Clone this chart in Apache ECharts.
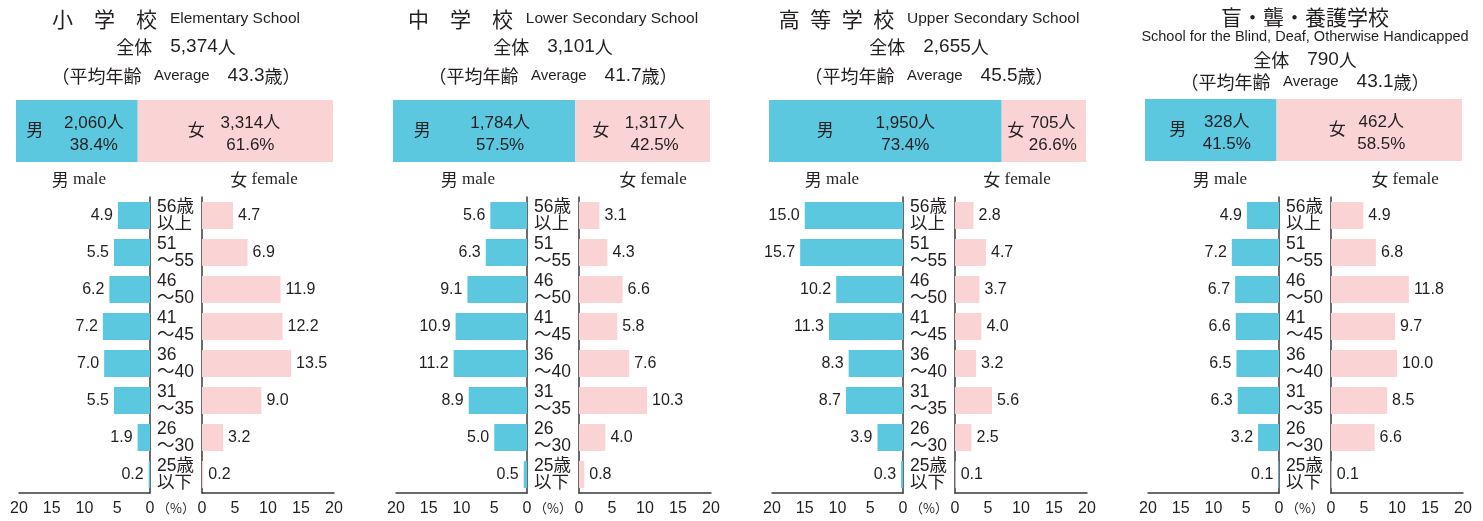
<!DOCTYPE html>
<html>
<head>
<meta charset="utf-8">
<script src="https://cdn.jsdelivr.net/npm/echarts@6/dist/echarts.min.js"></script>
<style>
  html, body { margin: 0; background: #fff; }
  #chart { width: 1483px; height: 521px; }
</style>
</head>
<body>
<div id="chart"></div>
<script>
// ---- data ----
const ageGroups = ['56歳\n以上', '51\n～55', '46\n～50', '41\n～45', '36\n～40', '31\n～35', '26\n～30', '25歳\n以下'];
const schoolJa = ['小　学　校', '中　学　校', '高\u2002等\u2002学\u2002校', '盲・聾・養護学校'];
const schoolEn = ['Elementary School', 'Lower Secondary School', 'Upper Secondary School', 'School for the Blind, Deaf, Otherwise Handicapped'];
const totalCount = ['5,374', '3,101', '2,655', '790'];
const averageAge = [43.3, 41.7, 45.5, 43.1];
const maleCount = ['2,060', '1,784', '1,950', '328'];
const femaleCount = ['3,314', '1,317', '705', '462'];
const malePct = [38.4, 57.5, 73.4, 41.5];
const femalePct = [61.6, 42.5, 26.6, 58.5];
// age shares (%), top row = 56歳以上
const maleShare = [
  [4.9, 5.5, 6.2, 7.2, 7.0, 5.5, 1.9, 0.2],
  [5.6, 6.3, 9.1, 10.9, 11.2, 8.9, 5.0, 0.5],
  [15.0, 15.7, 10.2, 11.3, 8.3, 8.7, 3.9, 0.3],
  [4.9, 7.2, 6.7, 6.6, 6.5, 6.3, 3.2, 0.1]
];
const femaleShare = [
  [4.7, 6.9, 11.9, 12.2, 13.5, 9.0, 3.2, 0.2],
  [3.1, 4.3, 6.6, 5.8, 7.6, 10.3, 4.0, 0.8],
  [2.8, 4.7, 3.7, 4.0, 3.2, 5.6, 2.5, 0.1],
  [4.9, 6.8, 11.8, 9.7, 10.0, 8.5, 6.6, 0.1]
];
const axisMax = 20, axisStep = 5;

// ---- layout / style ----
const SANS = "'Liberation Sans', 'Noto Sans CJK JP', sans-serif";
const CJK = "'Noto Sans CJK JP', sans-serif";
const SERIF = "'Liberation Serif', 'Noto Sans CJK JP', serif";
const MALE = '#5cc8e0', FEMALE = '#fad4d4', INK = '#231f20', LINE = '#3a3a3a';
const centers = [176, 553, 929, 1305];
// label offsets inside the summary bar: [男, male numbers, 女, female numbers]
const tagShift = [[-42, 17, -39, 15], [-62, 16, -42, 12], [-60, 20, -28, 9], [-33, 16, -32, 12]];
const sexTitleShift = [0, 12, 0, 12];

const chart = echarts.init(document.getElementById('chart'));
const grid = [], xAxis = [], yAxis = [], series = [], graphic = [];

function addText(x, y, text, rich) {
  graphic.push({
    type: 'text', x: x, y: y, silent: true,
    style: { text: text, align: 'center', verticalAlign: 'middle', textAlign: 'center', textVerticalAlign: 'middle', fill: INK, rich: rich }
  });
}
const rich = {
  ja: { fontFamily: CJK, fontSize: 21, fill: INK },
  jm: { fontFamily: CJK, fontSize: 18, fill: INK },
  en: { fontFamily: SANS, fontSize: 15.5, fill: INK },
  av: { fontFamily: SANS, fontSize: 15, fill: INK },
  sub: { fontFamily: SANS, fontSize: 14.5, fill: INK },
  num: { fontFamily: SANS, fontSize: 19, fill: INK },
  sx: { fontFamily: CJK, fontSize: 17, fill: INK },
  lat: { fontFamily: SERIF, fontSize: 17, fill: INK },
  pc: { fontFamily: CJK, fontSize: 13, fill: INK }
};

const sumLabel = { color: INK, fontFamily: SANS, fontSize: 17, position: 'inside', show: true };

centers.forEach(function (c, i) {
  // headers
  if (i < 3) {
    addText(c, 19, '{ja|' + schoolJa[i] + '}{en|   ' + schoolEn[i] + '}', rich);
    addText(c, 47, '{jm|全体　}{num|' + totalCount[i] + '}{jm|人}', rich);
    addText(c, 76, '{jm|（平均年齢}{av|   Average}{jm|　}{num|' + averageAge[i].toFixed(1) + '}{jm|歳）}', rich);
  } else {
    addText(c, 17, '{ja|' + schoolJa[i] + '}', rich);
    addText(c, 37, '{sub|' + schoolEn[i] + '}', rich);
    addText(c, 60, '{jm|全体　}{num|' + totalCount[i] + '}{jm|人}', rich);
    addText(c, 82, '{jm|（平均年齢}{av|   Average}{jm|　}{num|' + averageAge[i].toFixed(1) + '}{jm|歳）}', rich);
  }
  addText(c - 97 + sexTitleShift[i], 180, '{sx|男}{lat| male}', rich);
  addText(c + 88 + sexTitleShift[i], 180, '{sx|女}{lat| female}', rich);
  addText(c, 508, '{pc|（%）}', rich);

  // summary bar (male / female share of all teachers)
  const g0 = grid.length;
  grid.push({ left: c - 160, top: i < 3 ? 100 : 99, width: 317, height: 62 });
  xAxis.push({ gridIndex: g0, type: 'value', min: 0, max: 100, show: false });
  yAxis.push({ gridIndex: g0, type: 'category', data: ['all'], show: false });
  const s = tagShift[i];
  const common = { type: 'bar', xAxisIndex: g0, yAxisIndex: g0, barCategoryGap: '0%', barGap: '-100%', silent: true, animation: false };
  series.push(
    Object.assign({}, common, { stack: 'sex' + i, data: [malePct[i]], itemStyle: { color: MALE },
      label: Object.assign({}, sumLabel, { formatter: '男', offset: [s[0], 0] }) }),
    Object.assign({}, common, { stack: 'sex' + i, data: [femalePct[i]], itemStyle: { color: FEMALE },
      label: Object.assign({}, sumLabel, { formatter: '女', offset: [s[2], 0] }) }),
    Object.assign({}, common, { stack: 'num' + i, data: [malePct[i]], itemStyle: { color: 'transparent' },
      label: Object.assign({}, sumLabel, { formatter: maleCount[i] + '人\n' + malePct[i].toFixed(1) + '%', lineHeight: 22, offset: [s[1], 3] }) }),
    Object.assign({}, common, { stack: 'num' + i, data: [femalePct[i]], itemStyle: { color: 'transparent' },
      label: Object.assign({}, sumLabel, { formatter: femaleCount[i] + '人\n' + femalePct[i].toFixed(1) + '%', lineHeight: 22, offset: [s[3], 3] }) })
  );

  // age pyramid, male side (axis reversed)
  const tickLabel = { color: INK, fontFamily: SANS, fontSize: 16, margin: 8 };
  const axisLine = { show: true, lineStyle: { color: LINE, width: 1.5 } };
  const g1 = grid.length;
  grid.push({ left: c - 157, top: 197, width: 131, height: 296 });
  xAxis.push({ gridIndex: g1, type: 'value', min: 0, max: axisMax, interval: axisStep, inverse: true,
    axisLine: axisLine, axisTick: { show: false }, splitLine: { show: false }, axisLabel: tickLabel });
  yAxis.push({ gridIndex: g1, type: 'category', data: ageGroups, inverse: true, position: 'right',
    axisLine: axisLine, axisTick: { show: false }, axisLabel: { show: false } });
  series.push({ type: 'bar', xAxisIndex: g1, yAxisIndex: g1, data: maleShare[i], barWidth: 27, silent: true, animation: false,
    itemStyle: { color: MALE },
    label: { show: true, position: 'left', distance: 5, color: INK, fontFamily: SANS, fontSize: 16,
      formatter: function (p) { return p.value.toFixed(1); } } });

  // female side, with the age-group labels in the centre gap
  const g2 = grid.length;
  grid.push({ left: c + 26, top: 197, width: 132, height: 296 });
  xAxis.push({ gridIndex: g2, type: 'value', min: 0, max: axisMax, interval: axisStep,
    axisLine: axisLine, axisTick: { show: false }, splitLine: { show: false }, axisLabel: tickLabel });
  yAxis.push({ gridIndex: g2, type: 'category', data: ageGroups, inverse: true, position: 'left',
    axisLine: axisLine, axisTick: { show: false },
    axisLabel: { show: true, align: 'left', margin: 45, color: INK, fontFamily: SANS, fontSize: 17.5, lineHeight: 17 } });
  series.push({ type: 'bar', xAxisIndex: g2, yAxisIndex: g2, data: femaleShare[i], barWidth: 27, silent: true, animation: false,
    itemStyle: { color: FEMALE },
    label: { show: true, position: 'right', distance: 5, color: INK, fontFamily: SANS, fontSize: 16,
      formatter: function (p) { return p.value.toFixed(1); } } });
});

chart.setOption({ animation: false, grid: grid, xAxis: xAxis, yAxis: yAxis, series: series, graphic: graphic });
</script>
</body>
</html>
